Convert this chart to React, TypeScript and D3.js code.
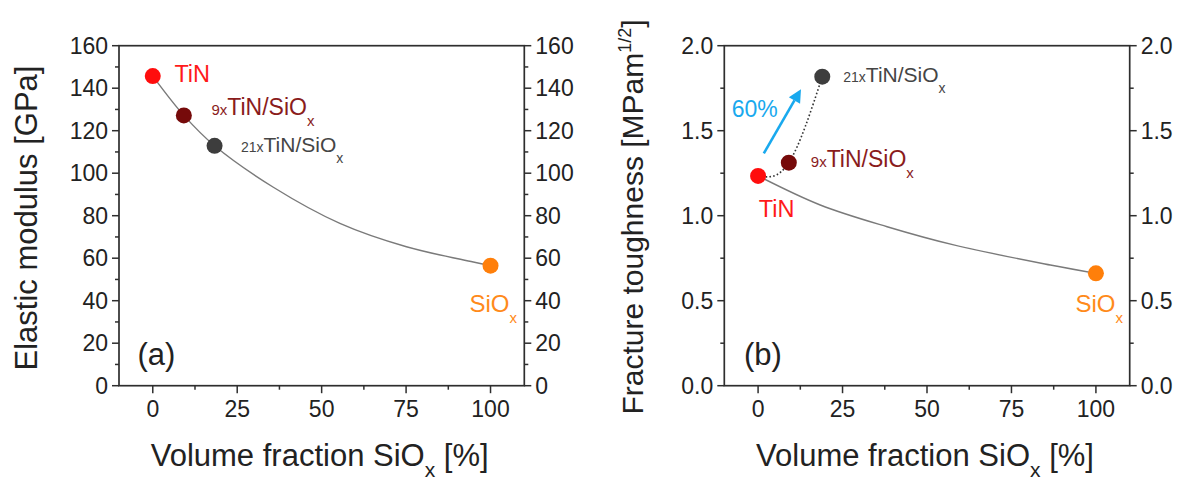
import React from "react";
import * as d3 from "d3";

// ---------- data ----------
const xTicks = [0, 25, 50, 75, 100];
const xMinor = [12.5, 37.5, 62.5, 87.5];
const yTicksA = [0, 20, 40, 60, 80, 100, 120, 140, 160];
const yMinorA = [10, 30, 50, 70, 90, 110, 130, 150];
const yTicksB = [0, 0.5, 1.0, 1.5, 2.0];
const yMinorB = [0.25, 0.75, 1.25, 1.75];

const samplePrefix = ["", "9x", "21x", ""];
const sampleMain = ["TiN", "TiN/SiO", "TiN/SiO", "SiO"];
const sampleSub = ["", "x", "x", "x"];
const sampleColor = ["#ff0d0d", "#760a0a", "#3d3d3d", "#ff7f0a"];
const labelColor = ["#ff1a1a", "#8a1c1c", "#454545", "#ff8a1a"];

// (a) elastic modulus
const fracA = [0, 9.2, 18.3, 100];
const modulus = [145.7, 127.2, 112.9, 56.5];
const fitAx = [0, 9.2, 18.3, 35.7, 55.4, 75.1, 94.9, 100];
const fitAy = [145.7, 127.2, 112.9, 93.4, 76.4, 65.4, 58.2, 56.5];

// (b) fracture toughness
const fracB = [0, 9.1, 19.0, 100];
const toughness = [1.234, 1.312, 1.818, 0.661];
const fitBx = [0, 18.4, 38.2, 57.9, 86.5, 100];
const fitBy = [1.234, 1.063, 0.935, 0.828, 0.71, 0.661];
const dotIdx = [0, 1, 2];
const arrowX = [1.7, 12.7];
const arrowY = [1.367, 1.744];
const arrowText = "60%";

// ---------- layout ----------
const W = 1186;
const H = 482;
const TOP = 45.7;
const BOTTOM = 385.7;
const FONT = "'Liberation Sans', Arial, Helvetica, sans-serif";
const AXIS = "#2e2e2e";

type LabelPos = { dx: number; dy: number; size: number; small: number };

const labelsA: LabelPos[] = [
  { dx: 21.6, dy: 5.6, size: 23.5, small: 15 },
  { dx: 27.6, dy: 0, size: 23, small: 15 },
  { dx: 26.4, dy: 6, size: 21, small: 14 },
  { dx: -21, dy: 46, size: 24, small: 15 },
];
const labelsB: LabelPos[] = [
  { dx: 0.6, dy: 41, size: 23.5, small: 15 },
  { dx: 22, dy: 4.5, size: 23, small: 15 },
  { dx: 21, dy: 5, size: 21, small: 14 },
  { dx: -20.5, dy: 38.4, size: 24, small: 15 },
];

function Label({ x, y, i, pos }: { x: number; y: number; i: number; pos: LabelPos }) {
  return (
    <text x={x + pos.dx} y={y + pos.dy} fill={labelColor[i]} fontSize={pos.size} fontFamily={FONT}>
      {samplePrefix[i] ? <tspan fontSize={pos.small}>{samplePrefix[i]}</tspan> : null}
      <tspan>{sampleMain[i]}</tspan>
      {sampleSub[i] ? (
        <tspan fontSize={pos.small} dy={11}>
          {sampleSub[i]}
        </tspan>
      ) : null}
    </text>
  );
}

function Frame({
  x,
  y,
  yTicks,
  yMinor,
  fmt,
}: {
  x: d3.ScaleLinear<number, number>;
  y: d3.ScaleLinear<number, number>;
  yTicks: number[];
  yMinor: number[];
  fmt: (v: number) => string;
}) {
  const [l, r] = x.range();
  return (
    <g>
      <rect x={l} y={TOP} width={r - l} height={BOTTOM - TOP} fill="none" stroke={AXIS} strokeWidth={1.7} />
      {xTicks.map((t) => (
        <g key={"xt" + t}>
          <line x1={x(t)} x2={x(t)} y1={BOTTOM} y2={BOTTOM + 7.5} stroke={AXIS} strokeWidth={1.5} />
          <text x={x(t)} y={BOTTOM + 31.5} textAnchor="middle" fontSize={23} fontFamily={FONT} fill="#222">
            {t}
          </text>
        </g>
      ))}
      {xMinor.map((t) => (
        <line key={"xm" + t} x1={x(t)} x2={x(t)} y1={BOTTOM} y2={BOTTOM + 4} stroke={AXIS} strokeWidth={1.5} />
      ))}
      {yTicks.map((t) => (
        <g key={"yt" + t}>
          <line x1={l - 7} x2={l} y1={y(t)} y2={y(t)} stroke={AXIS} strokeWidth={1.5} />
          <line x1={r} x2={r + 7} y1={y(t)} y2={y(t)} stroke={AXIS} strokeWidth={1.5} />
          <text x={l - 11} y={y(t) + 8} textAnchor="end" fontSize={23} fontFamily={FONT} fill="#222">
            {fmt(t)}
          </text>
          <text x={r + 11} y={y(t) + 8} textAnchor="start" fontSize={23} fontFamily={FONT} fill="#222">
            {fmt(t)}
          </text>
        </g>
      ))}
      {yMinor.map((t) => (
        <g key={"ym" + t}>
          <line x1={l - 4} x2={l} y1={y(t)} y2={y(t)} stroke={AXIS} strokeWidth={1.5} />
          <line x1={r} x2={r + 4} y1={y(t)} y2={y(t)} stroke={AXIS} strokeWidth={1.5} />
        </g>
      ))}
      <text
        x={(l + r) / 2 - 2}
        y={465.5}
        textAnchor="middle"
        fontSize={31}
        fontFamily={FONT}
        fill="#222"
      >
        Volume fraction SiO
        <tspan fontSize={21} dy={11}>
          x
        </tspan>
        <tspan dy={-11}> [%]</tspan>
      </text>
    </g>
  );
}

export default function App() {
  const xA = d3.scaleLinear().domain([-10, 110]).range([119, 524.3]);
  const yA = d3.scaleLinear().domain([0, 160]).range([BOTTOM, TOP]);
  const xB = d3.scaleLinear().domain([-10, 110]).range([724.3, 1129.7]);
  const yB = d3.scaleLinear().domain([0, 2]).range([BOTTOM, TOP]);

  const fitLineA = d3
    .line<number>()
    .x((_, i) => xA(fitAx[i]))
    .y((d) => yA(d))
    .curve(d3.curveCatmullRom.alpha(0.5))(fitAy) as string;
  const fitLineB = d3
    .line<number>()
    .x((_, i) => xB(fitBx[i]))
    .y((d) => yB(d))
    .curve(d3.curveCatmullRom.alpha(0.5))(fitBy) as string;
  const dotLine = d3
    .line<number>()
    .x((i) => xB(fracB[i]))
    .y((i) => yB(toughness[i]))
    .curve(d3.curveNatural)(dotIdx) as string;

  // arrow
  const ax0 = xB(arrowX[0]);
  const ay0 = yB(arrowY[0]);
  const ax1 = xB(arrowX[1]);
  const ay1 = yB(arrowY[1]);
  const ang = Math.atan2(ay1 - ay0, ax1 - ax0);
  const headL = 13;
  const headW = 6.5;
  const bx = ax1 - headL * Math.cos(ang);
  const by = ay1 - headL * Math.sin(ang);
  const px = -Math.sin(ang);
  const py = Math.cos(ang);
  const head = `M${ax1},${ay1}L${bx + headW * px},${by + headW * py}L${bx - headW * px},${by - headW * py}Z`;

  const fmtA = d3.format("d");
  const fmtB = d3.format(".1f");
  const blue = "#19a9ee";

  return (
    <div style={{ position: "absolute", left: 0, top: 0 }}>
      <svg width={W} height={H} style={{ display: "block", background: "#fff" }}>
        {/* ---------- panel (a) ---------- */}
        <Frame x={xA} y={yA} yTicks={yTicksA} yMinor={yMinorA} fmt={fmtA} />
        <text
          transform={`translate(37,218) rotate(-90)`}
          textAnchor="middle"
          fontSize={31}
          fontFamily={FONT}
          fill="#222"
        >
          Elastic modulus [GPa]
        </text>
        <path d={fitLineA} fill="none" stroke="#7a7a7a" strokeWidth={1.4} />
        {fracA.map((f, i) => (
          <circle key={"pa" + i} cx={xA(f)} cy={yA(modulus[i])} r={8} fill={sampleColor[i]} />
        ))}
        {fracA.map((f, i) => (
          <Label key={"la" + i} x={xA(f)} y={yA(modulus[i])} i={i} pos={labelsA[i]} />
        ))}
        <text x={137.5} y={365} fontSize={31} fontFamily={FONT} fill="#222">
          (a)
        </text>

        {/* ---------- panel (b) ---------- */}
        <Frame x={xB} y={yB} yTicks={yTicksB} yMinor={yMinorB} fmt={fmtB} />
        <text
          transform={`translate(643,217) rotate(-90)`}
          textAnchor="middle"
          fontSize={30}
          fontFamily={FONT}
          fill="#222"
        >
          Fracture toughness [MPam
          <tspan fontSize={18} dy={-12}>
            1/2
          </tspan>
          <tspan dy={12}>]</tspan>
        </text>
        <path d={fitLineB} fill="none" stroke="#7a7a7a" strokeWidth={1.4} />
        <path d={dotLine} fill="none" stroke="#333" strokeWidth={1.6} strokeDasharray="1.6,2.2" />
        <line x1={ax0} y1={ay0} x2={bx} y2={by} stroke={blue} strokeWidth={2.6} />
        <path d={head} fill={blue} />
        <text x={731.7} y={116.7} fontSize={23} fontFamily={FONT} fill={blue}>
          {arrowText}
        </text>
        {fracB.map((f, i) => (
          <circle key={"pb" + i} cx={xB(f)} cy={yB(toughness[i])} r={8} fill={sampleColor[i]} />
        ))}
        {fracB.map((f, i) => (
          <Label key={"lb" + i} x={xB(f)} y={yB(toughness[i])} i={i} pos={labelsB[i]} />
        ))}
        <text x={744} y={365} fontSize={31} fontFamily={FONT} fill="#222">
          (b)
        </text>
      </svg>
    </div>
  );
}
